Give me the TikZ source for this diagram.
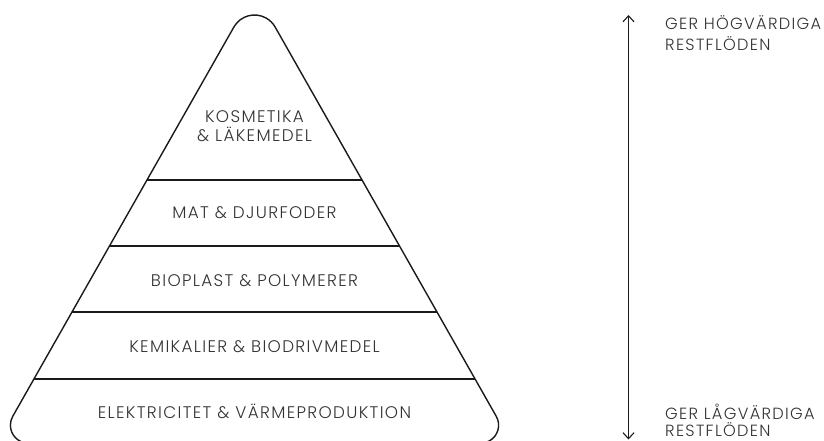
\documentclass[tikz,border=0pt]{standalone}
\usepackage{fontspec}
\setmainfont{Poppins}[UprightFont=* Light, LetterSpace=8]
\usetikzlibrary{arrows.meta}
\definecolor{ink}{HTML}{1A1A1A}
\definecolor{txt}{HTML}{333333}
\begin{document}
\begin{tikzpicture}[x=1pt,y=-1pt,
  outline/.style={draw=ink, line width=1.4pt},
  divider/.style={draw=ink, line width=1.3pt},
  lbl/.style={font=\fontsize{16.8}{17}\selectfont, text=txt, inner sep=0pt, anchor=base},
  side/.style={lbl, font=\fontsize{16.2}{17}\selectfont, anchor=base west},
  scale arrow/.style={draw=ink, line width=1.1pt,
    {Straight Barb[length=6pt,width=11pt]}-{Straight Barb[length=6pt,width=11pt]}}]
\useasboundingbox (0,0) rectangle (824,441);

% pyramid outline with rounded apex and bottom corners
\begin{scope}
\clip (0,0) rectangle (824,441);
\path[outline] (254.5,443.2) -- (28.4,443.2)
  arc[start angle=90, end angle=209.6, radius=18]
  -- (233.9,27.0)
  arc[start angle=209.6, end angle=330.4, radius=23.7]
  -- (496.25,416.3)
  arc[start angle=-29.6, end angle=90, radius=18]
  -- cycle;
\end{scope}

% level dividers
\path[divider] (147,180) -- (362,180);
\path[divider] (109.5,246) -- (399.5,246);
\path[divider] (72,312) -- (437,312);
\path[divider] (34,379) -- (475,379);

% level labels
\node[lbl] (l1a) at (254.5,122) {KOSMETIKA};
\node[lbl] (l1b) at (254.5,142) {\& LÄKEMEDEL};
\node[lbl] (l2) at (254.5,218) {MAT \& DJURFODER};
\node[lbl] (l3) at (254.5,286) {BIOPLAST \& POLYMERER};
\node[lbl] (l4) at (254.5,352) {KEMIKALIER \& BIODRIVMEDEL};
\node[lbl] (l5) at (254.5,418) {ELEKTRICITET \& VÄRMEPRODUKTION};

% value scale
\coordinate (top) at (628.5,15);
\coordinate (bottom) at (628.5,439.5);
\path[scale arrow] (bottom) -- (top);

\node[side] (hi1) at (665,30) {GER HÖGVÄRDIGA};
\node[side] (hi2) at (665,51) {RESTFLÖDEN};
\node[side] (lo1) at (665,419) {GER LÅGVÄRDIGA};
\node[side] (lo2) at (665,436.5) {RESTFLÖDEN};
\end{tikzpicture}
\end{document}
